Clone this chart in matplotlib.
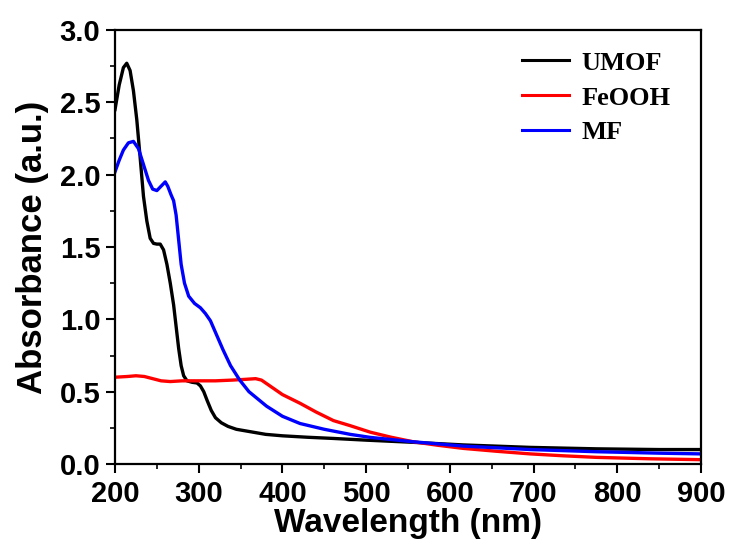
import matplotlib
matplotlib.use("Agg")
import matplotlib.pyplot as plt
from matplotlib.ticker import MultipleLocator

# UV-vis absorbance spectra
umof_wl = [200, 205, 210, 214, 218, 222, 226, 230, 234, 238, 242, 246, 250, 254,
           258, 262, 266, 270, 273, 276, 279, 282, 286, 292, 298, 302, 306, 310,
           315, 320, 327, 335, 345, 360, 380, 400, 430, 460, 500, 556, 616, 696,
           775, 850, 900]
umof_abs = [2.45, 2.62, 2.74, 2.77, 2.72, 2.58, 2.38, 2.12, 1.85, 1.68, 1.56, 1.525,
            1.52, 1.52, 1.48, 1.38, 1.25, 1.10, 0.95, 0.80, 0.68, 0.61, 0.575, 0.565,
            0.56, 0.54, 0.50, 0.44, 0.37, 0.32, 0.285, 0.26, 0.24, 0.225, 0.205,
            0.195, 0.185, 0.177, 0.165, 0.15, 0.132, 0.115, 0.105, 0.10, 0.10]

feooh_wl = [200, 215, 225, 235, 245, 255, 266, 280, 300, 320, 340, 355, 368, 375,
            385, 400, 421, 440, 461, 481, 505, 530, 556, 585, 616, 656, 696, 735,
            775, 840, 900]
feooh_abs = [0.60, 0.605, 0.61, 0.605, 0.59, 0.575, 0.57, 0.575, 0.575, 0.575, 0.58,
             0.585, 0.59, 0.58, 0.54, 0.48, 0.42, 0.36, 0.30, 0.265, 0.22, 0.185,
             0.154, 0.13, 0.108, 0.088, 0.07, 0.057, 0.046, 0.036, 0.03]

mf_wl = [200, 205, 210, 216, 222, 228, 234, 240, 245, 250, 255, 260, 263, 267, 270,
         273, 276, 279, 283, 288, 295, 302, 308, 314, 320, 329, 338, 349, 360, 381,
         400, 421, 450, 481, 505, 556, 616, 696, 775, 850, 900]
mf_abs = [2.02, 2.10, 2.17, 2.22, 2.23, 2.18, 2.07, 1.96, 1.90, 1.89, 1.92, 1.95,
          1.92, 1.86, 1.82, 1.72, 1.55, 1.38, 1.25, 1.16, 1.11, 1.08, 1.04, 0.99,
          0.91, 0.79, 0.68, 0.58, 0.50, 0.40, 0.33, 0.28, 0.24, 0.205, 0.184, 0.154,
          0.124, 0.10, 0.085, 0.075, 0.07]

series = [("UMOF", umof_wl, umof_abs, "black"),
          ("FeOOH", feooh_wl, feooh_abs, "#ff0000"),
          ("MF", mf_wl, mf_abs, "#0000ff")]

sans = ["Liberation Sans", "DejaVu Sans"]
serif = ["Liberation Serif", "DejaVu Serif"]

fig = plt.figure(figsize=(7.34, 5.47), dpi=100)
ax = fig.add_axes([0.1567, 0.1517, 0.7983, 0.7935])

for name, wl, ab, col in series:
    ax.plot(wl, ab, color=col, lw=2.4, label=name)

ax.set_xlim(200, 900)
ax.set_ylim(0, 3.0)
ax.xaxis.set_major_locator(MultipleLocator(100))
ax.xaxis.set_minor_locator(MultipleLocator(50))
ax.yaxis.set_major_locator(MultipleLocator(0.5))
ax.yaxis.set_minor_locator(MultipleLocator(0.25))
ax.yaxis.set_major_formatter(plt.FormatStrFormatter("%.1f"))

for s in ax.spines.values():
    s.set_linewidth(1.6)
ax.tick_params(which="major", direction="out", length=6.5, width=1.5)
ax.tick_params(axis="x", which="major", pad=5)
ax.tick_params(axis="y", which="major", pad=4)
ax.tick_params(which="minor", direction="out", length=3.5, width=1.2)
for lab in ax.get_xticklabels() + ax.get_yticklabels():
    lab.set_family(sans)
    lab.set_fontweight("bold")
    lab.set_fontsize(21)

ax.set_xlabel("Wavelength (nm)", family=sans, fontweight="bold", fontsize=24, labelpad=0)
ax.set_ylabel("Absorbance (a.u.)", family=sans, fontweight="bold", fontsize=25, labelpad=8)

leg = ax.legend(loc="upper left", frameon=False, handlelength=1.8, handletextpad=0.45,
                labelspacing=0.43, borderpad=0, borderaxespad=0,
                bbox_to_anchor=(0.6945, 0.951),
                prop={"family": serif, "weight": "bold", "size": 19})
for h in leg.get_lines():
    h.set_linewidth(2.2)

fig.savefig("out.png", dpi=100)
